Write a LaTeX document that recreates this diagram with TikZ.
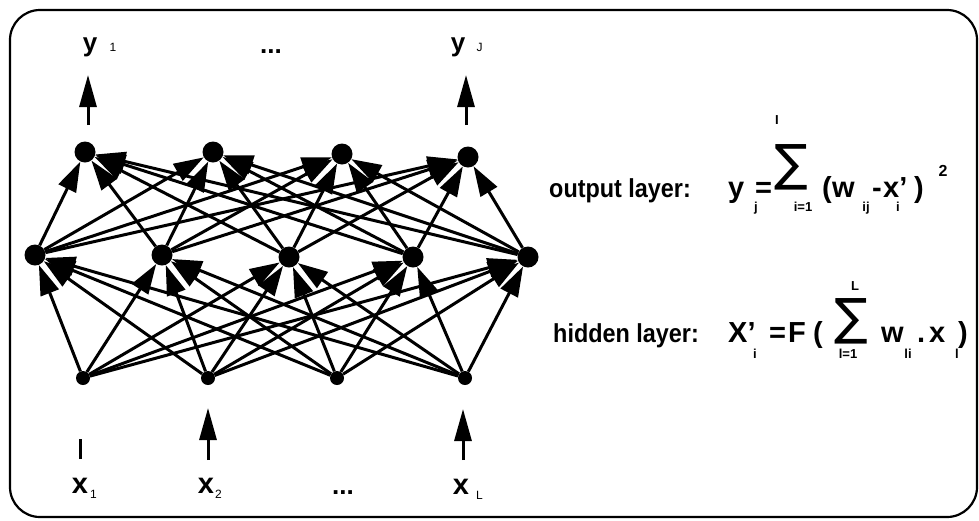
\documentclass[tikz,border=0pt]{standalone}
\usepackage{fontspec}
\setmainfont{Liberation Sans}
\newfontfamily\sumfont{DejaVu Sans}
\newfontfamily\layerfont[FakeStretch=0.9]{Liberation Sans}
\usetikzlibrary{arrows.meta, positioning}

\begin{document}
\begin{tikzpicture}[
  x=1pt, y=-1pt,
  unit/.style={circle, fill=black, inner sep=0pt, minimum size=21pt},
  inunit/.style={circle, fill=black, inner sep=0pt, minimum size=14pt},
  link/.style={-{Triangle[length=30pt, width=19pt]}, line width=3pt},
  ioarrow/.style={-{Triangle[length=32pt, width=17pt]}, line width=3pt},
  ylab/.style={font=\bfseries\fontsize{26}{26}\selectfont, inner sep=0pt, anchor=base},
  xlab/.style={font=\bfseries\fontsize{29}{29}\selectfont, inner sep=0pt, anchor=base},
  idx/.style={font=\fontsize{12}{12}\selectfont, inner sep=0pt, anchor=base west},
  layertext/.style={font=\layerfont\bfseries\fontsize{26}{26}\selectfont, inner sep=0pt, anchor=base west},
  fml/.style={font=\bfseries\fontsize{29}{29}\selectfont, inner sep=0pt, anchor=base west},
  fsub/.style={font=\bfseries\fontsize{13}{13}\selectfont, inner sep=0pt, anchor=base},
  bigsum/.style={font=\sumfont\fontsize{50}{50}\selectfont, inner sep=0pt, anchor=south west}
]
  \useasboundingbox (0,0) rectangle (979,520);
  \draw[line width=2.2pt, rounded corners=30pt] (10,10) rectangle (977,517);

  \foreach \n/\x/\y in {1/85/152, 2/213/152, 3/342/154, 4/468/157}
    \node[unit] (o\n) at (\x,\y) {};
  \foreach \n/\x/\y in {1/35/255, 2/162/255, 3/289/257, 4/413/257, 5/528/257}
    \node[unit] (h\n) at (\x,\y) {};
  \foreach \n/\x in {1/83, 2/208, 3/337, 4/465}
    \node[inunit] (i\n) at (\x,378) {};

  \foreach \a in {1,...,4}
    \foreach \b in {1,...,5}
      \draw[link] (i\a) -- (h\b);
  \foreach \a in {1,...,5}
    \foreach \b in {1,...,4}
      \draw[link] (h\a) -- (o\b);

  \node[ylab] (y1) at (90,51) {y};
  \node[idx, base right=12pt of y1] {1};
  \node[ylab] (ydots) at (271,53) {...};
  \node[ylab] (yJ) at (458,51) {y};
  \node[idx, base right=11pt of yJ] {J};

  \coordinate (yb1) at (88,125);
  \coordinate (yt1) at (88,75);
  \coordinate (ybJ) at (466,125);
  \coordinate (ytJ) at (466,75);
  \draw[ioarrow] (yb1) -- (yt1);
  \draw[ioarrow] (ybJ) -- (ytJ);

  \node[xlab] (x1) at (80,493) {x};
  \node[idx] at (90,498) {1};
  \node[xlab] (x2) at (206,493) {x};
  \node[idx] at (215,498) {2};
  \node[ylab] (xdots) at (343,494) {...};
  \node[xlab] (xL) at (461,494) {x};
  \node[idx] at (476,499) {L};

  \coordinate (xb1) at (80,459);
  \coordinate (xt1) at (80,439);
  \coordinate (xb2) at (208,460);
  \coordinate (xt2) at (208,408);
  \coordinate (xbL) at (463,460);
  \coordinate (xtL) at (463,409);
  \draw[line width=3pt] (xb1) -- (xt1);
  \draw[ioarrow] (xb2) -- (xt2);
  \draw[ioarrow] (xbL) -- (xtL);

  \node[layertext] (outtxt) at (549,197) {output layer:};
  \foreach \x/\t in {728/y, 755/=, 822/(, 832/w, 872/-, 883/x', 914/)}
    \node[fml] at (\x,197) {\t};
  \node[bigsum] (sum1) at (774,190) {∑};
  \node[fsub] at (777,124) {I};
  \foreach \x/\t in {756/j, 803/i=1, 866/ij, 898/i}
    \node[fsub] at (\x,211) {\t};
  \node[font=\bfseries\fontsize{16}{16}\selectfont, inner sep=0pt] at (943,171) {2};

  \node[layertext] (hidtxt) at (553,342) {hidden layer:};
  \foreach \x/\t in {728/X', 769/=, 788/F, 813/(, 881/w, 917/., 929/x, 958/)}
    \node[fml] at (\x,342) {\t};
  \node[bigsum] (sum2) at (834,344) {∑};
  \node[fsub] at (855,290) {L};
  \foreach \x/\t in {755/i, 848/l=1, 908/li, 957/l}
    \node[fsub] at (\x,358) {\t};
\end{tikzpicture}
\end{document}
